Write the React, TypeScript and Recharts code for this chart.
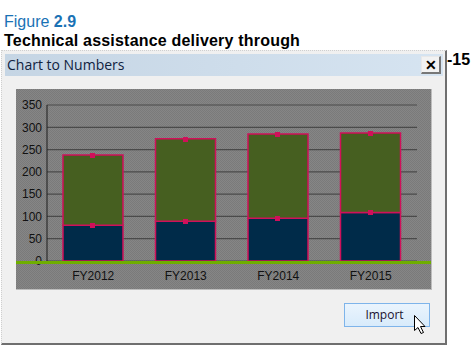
import React from 'react';
import { Bar, XAxis, YAxis, CartesianGrid, ComposedChart, Rectangle } from 'recharts';

const years = ['FY2012', 'FY2013', 'FY2014', 'FY2015'];
const lower = [80, 89, 96, 109];
const upper = [158, 185, 189, 178];
const yTicks = [0, 50, 100, 150, 200, 250, 300, 350];

const rows = years.map((year, i) => ({
  year,
  lower: lower[i],
  upper: upper[i],
}));

const font = 'Arial, "Liberation Sans", sans-serif';
const uiFont = '"Open Sans", sans-serif';
const pink = '#d0105a';

// upper segment, with the square drag handles on its top and bottom edges
const UpperBar = (props: any) => {
  const { x, y, width, height } = props;
  const mid = Math.round(x + width / 2);
  return (
    <g>
      <Rectangle {...props} />
      <rect x={mid - 3} y={Math.round(y) - 2} width={5} height={5} fill={pink} />
      <rect x={mid - 3} y={Math.round(y + height) - 2} width={5} height={5} fill={pink} />
    </g>
  );
};

export default function App() {
  return (
    <div style={{ position: 'absolute', left: 0, top: 0, width: 475, height: 356, background: '#fff', fontFamily: font, overflow: 'hidden' }}>
      <div style={{ position: 'absolute', left: 4, top: 13, fontSize: 16, color: '#1a72b5', lineHeight: '18px' }}>
        Figure <b>2.9</b>
      </div>
      <div style={{ position: 'absolute', left: 4, top: 32, fontSize: 16, fontWeight: 700, letterSpacing: 0.2, color: '#000', lineHeight: '17px', whiteSpace: 'nowrap' }}>
        Technical assistance delivery through
      </div>
      <div style={{ position: 'absolute', left: 447, top: 51, fontSize: 16, fontWeight: 700, color: '#000', lineHeight: '18px' }}>-15</div>

      {/* dialog */}
      <div style={{ position: 'absolute', left: 1, top: 50, width: 443, height: 292, background: '#f0f0f0', borderRight: '2px solid #6f6f6f', borderBottom: '2px solid #6f6f6f', borderTop: '1px dotted #cfcfcf', borderLeft: '1px dotted #cfcfcf' }} />
      <div style={{ position: 'absolute', left: 5, top: 54, width: 438, height: 22, background: 'linear-gradient(to right, #c5d5e4, #d6e4f1)' }} />
      <div style={{ position: 'absolute', left: 7, top: 55, fontSize: 14, fontFamily: uiFont, color: '#10233f', lineHeight: '20px' }}>Chart to Numbers</div>
      <div style={{ position: 'absolute', left: 421, top: 56, width: 20, height: 18, background: '#f2f2f2', borderTop: '1px solid #e8e8e8', borderLeft: '1px solid #e8e8e8', borderRight: '2px solid #777', borderBottom: '2px solid #777', boxSizing: 'border-box', textAlign: 'center', fontSize: 14, fontWeight: 700, lineHeight: '16px', color: '#000' }}>✕</div>

      {/* chart panel */}
      <div style={{
        position: 'absolute', left: 16, top: 89, width: 415, height: 200,
        backgroundColor: '#808080',
        backgroundImage: 'repeating-conic-gradient(#7a7a7a 0% 25%, #868686 0% 50%)',
        backgroundSize: '2px 2px',
        borderBottom: '1px solid #bdbdbd', borderRight: '1px solid #bdbdbd',
      }}>
        <ComposedChart
          width={415}
          height={200}
          data={rows}
          margin={{ top: 16, right: 14, bottom: 0, left: 0 }}
          barGap={0}
        >
          <CartesianGrid vertical={false} stroke="#4a4a4a" strokeWidth={1.2} />
          <XAxis
            dataKey="year"
            height={28}
            axisLine={false}
            tickLine={false}
            tickSize={0}
            tick={{ fill: '#111', fontSize: 12, fontFamily: font }}
            tickMargin={10}
          />
          <YAxis
            type="number"
            domain={[0, 350]}
            ticks={yTicks}
            width={31}
            axisLine={{ stroke: '#1c1c1c' }}
            tickLine={false}
            tickSize={0}
            tick={{ fill: '#111', fontSize: 12, fontFamily: font }}
            tickMargin={5}
            interval={0}
          />
          <Bar dataKey="lower" stackId="a" fill="#002b49" stroke={pink} strokeWidth={1.5} barSize={60} isAnimationActive={false} />
          <Bar dataKey="upper" stackId="a" fill="#465f20" stroke={pink} strokeWidth={1.5} barSize={60} isAnimationActive={false} shape={UpperBar} />
        </ComposedChart>
        {/* green baseline runs the full panel width, over the 0 label */}
        <div style={{ position: 'absolute', left: 0, top: 172, width: 415, height: 3, background: '#6fae00', zIndex: 5 }} />
      </div>

      {/* import button */}
      <div style={{ position: 'absolute', left: 344, top: 303, width: 86, height: 24, boxSizing: 'border-box', border: '1px solid #7eb4ea', background: 'linear-gradient(to bottom, #eaf4fd, #d8ebfb)', textAlign: 'center', fontSize: 12, fontFamily: uiFont, lineHeight: '22px', color: '#1a1030', paddingRight: 5 }}>Import</div>
      <svg style={{ position: 'absolute', left: 413, top: 314 }} width={16} height={22}>
        <path d="M1.5 1.5 L1.5 16.5 L5 13.5 L8 19.5 L10.5 18.5 L7.5 12.5 L12 12.5 Z" fill="#fff" stroke="#000" strokeWidth={1} />
      </svg>
    </div>
  );
}
